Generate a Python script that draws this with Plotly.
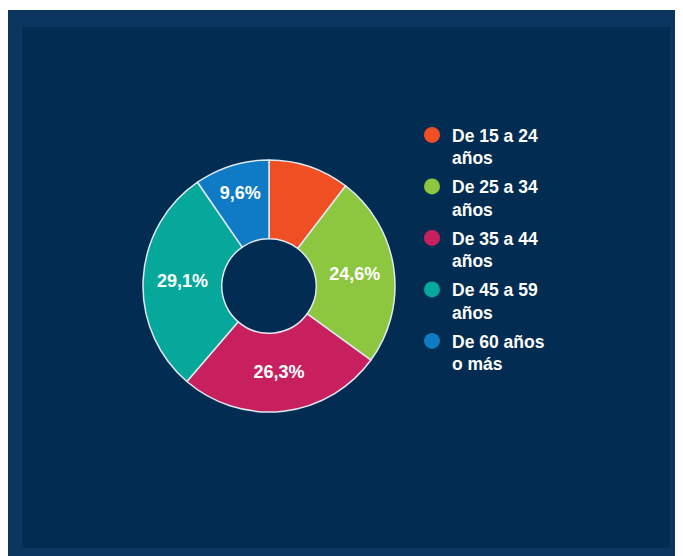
import plotly.graph_objects as go

# Distribución por grupos de edad (%)
grupos = ["De 15 a 24<br>años", "De 25 a 34<br>años", "De 35 a 44<br>años",
          "De 45 a 59<br>años", "De 60 años<br>o más"]
porcentajes = [10.4, 24.6, 26.3, 29.1, 9.6]
mostrar_etiqueta = [False, True, True, True, True]
colores = ["#F04E23", "#8DC63F", "#C8205E", "#05A89B", "#0E7BC4"]

# la página tiene 8px de margen, la figura empieza en (8, 8)
W, H = 675, 548
fondo = "#022c51"

etiquetas = [(f"{v:.1f}%".replace(".", ",") if m else "")
             for v, m in zip(porcentajes, mostrar_etiqueta)]

fig = go.Figure()

# Dona
cx, cy, r = 261, 278, 126
fig.add_trace(go.Pie(
    labels=grupos, values=porcentajes, text=etiquetas,
    textinfo="text", textposition="inside", insidetextorientation="horizontal",
    insidetextfont=dict(color="white", size=18, family="Liberation Sans", weight="bold"),
    hole=0.375, sort=False, direction="clockwise", rotation=0,
    marker=dict(colors=colores, line=dict(color="#dfe8f0", width=1.5)),
    domain=dict(x=[(cx - r) / W, (cx + r) / W], y=[1 - (cy + r) / H, 1 - (cy - r) / H]),
    showlegend=False, hoverinfo="label+percent",
))

# Leyenda con marcadores circulares
for i, (g, c) in enumerate(zip(grupos, colores)):
    fig.add_trace(go.Scatter(x=[None], y=[None], mode="markers", name=g,
                             legendgroup=f"g{i}",
                             marker=dict(color=c, size=16, symbol="circle")))

fig.update_layout(
    width=W, height=H,
    margin=dict(l=0, r=0, t=0, b=0),
    paper_bgcolor="white", plot_bgcolor="rgba(0,0,0,0)",
    xaxis=dict(visible=False), yaxis=dict(visible=False),
    legend=dict(x=404 / W, y=1 - 109 / H, xanchor="left", yanchor="top",
                valign="top", bgcolor="rgba(0,0,0,0)", tracegroupgap=3,
                font=dict(color="white", size=17.5, family="Liberation Sans", weight="bold")),
    shapes=[
        dict(type="rect", xref="paper", yref="paper", layer="below",
             x0=0, x1=1, y0=0, y1=1 - 2 / H,
             fillcolor="#0a3660", line=dict(width=0)),
        dict(type="rect", xref="paper", yref="paper", layer="below",
             x0=14 / W, x1=662 / W, y0=8 / H, y1=1 - 19 / H,
             fillcolor=fondo, line=dict(width=0)),
    ],
)

fig.write_html("out.html")
